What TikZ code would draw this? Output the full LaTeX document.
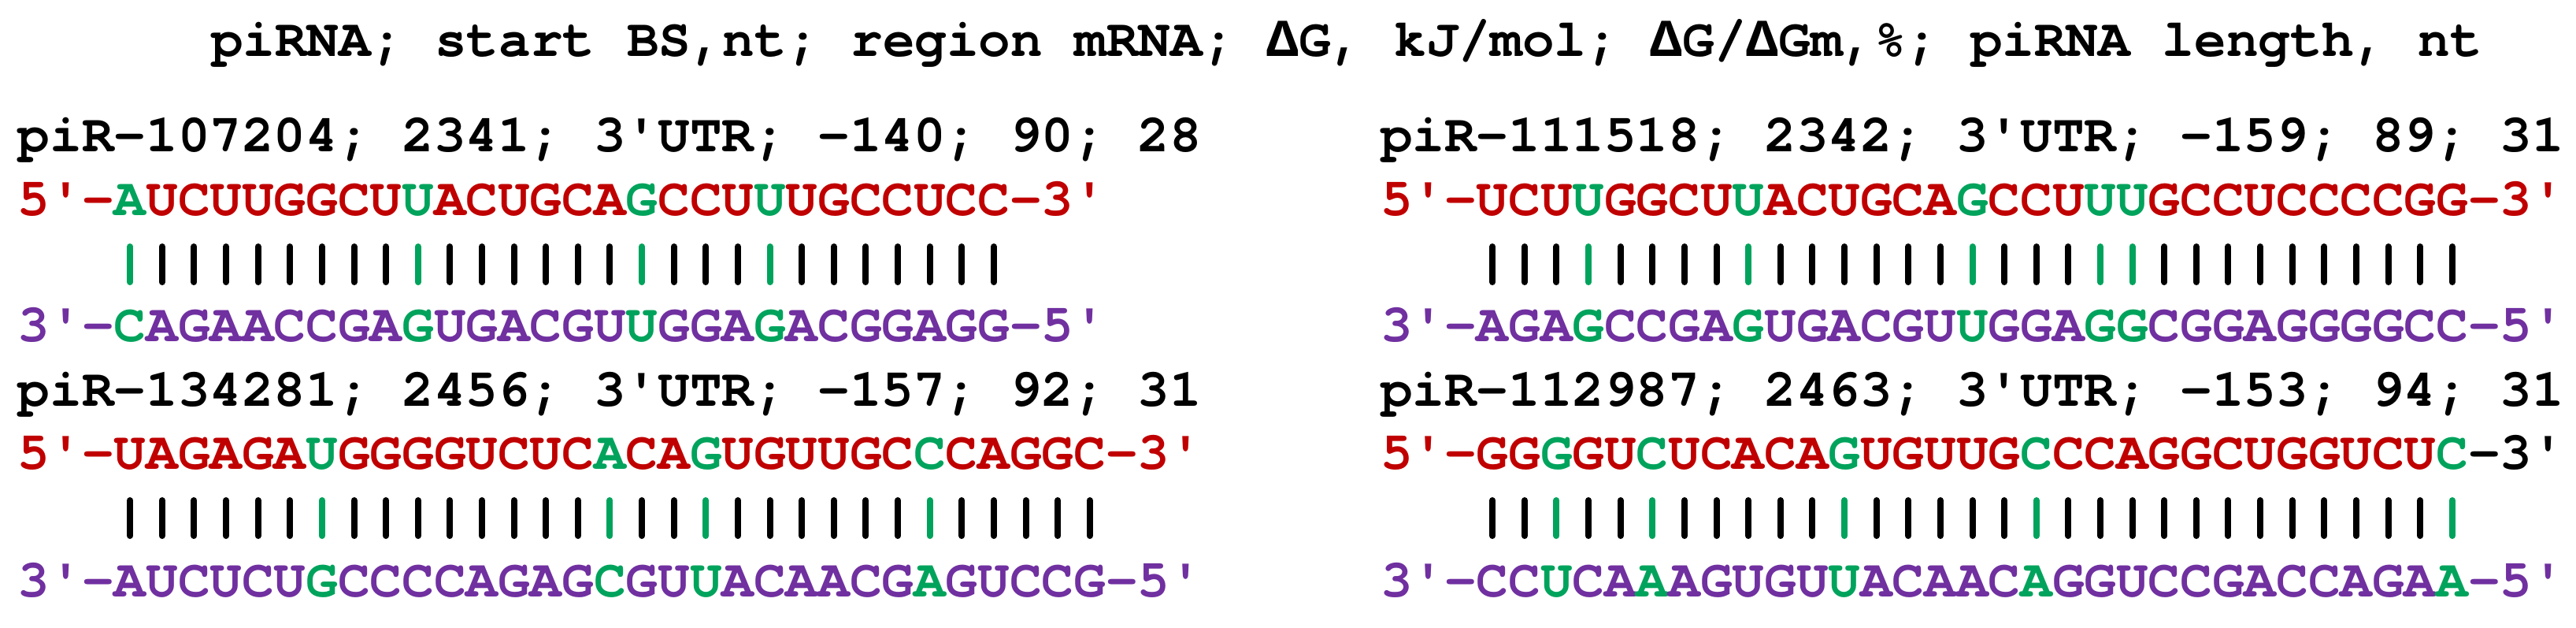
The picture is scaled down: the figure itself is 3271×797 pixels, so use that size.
\documentclass[tikz,border=0pt]{standalone}
\usepackage{fontspec}
\newfontfamily\cur{texgyrecursor-bold.otf}
\newfontfamily\lmb{Liberation Mono}[BoldFont={Liberation Mono Bold}]
\definecolor{sred}{RGB}{192,0,0}
\definecolor{sgreen}{RGB}{0,163,92}
\definecolor{spurp}{RGB}{112,48,160}
\newcommand\G[1]{\textcolor{sgreen}{#1}}
\newcommand\D{{\lmb\bfseries Δ}}
\def\pitch{40.62}
\newcommand\pairbars[4]{%
  \foreach \k in {1,...,#3}{%
    \gdef\bcol{black}%
    \foreach \g in {#4}{\ifnum\g=\k\relax\gdef\bcol{sgreen}\fi}%
    \draw[bar,\bcol] ({#1+(\k+2.5)*\pitch},{#2+40}) -- ({#1+(\k+2.5)*\pitch},{#2+85});
  }}
\begin{document}
\begin{tikzpicture}[x=1pt,y=-1pt,
  txt/.style={anchor=base west, inner sep=0pt, outer sep=0pt, font=\cur\fontsize{67.7}{81}\selectfont},
  bar/.style={line width=8pt, line cap=round}]
\useasboundingbox (0,0) rectangle (3271,797);
\fill[white] (0,0) rectangle (3271,797);
\node[txt] (title) at (268,72) {piRNA; start BS,nt; region mRNA; \D G, kJ/mol; \D G/\D Gm,\%; piRNA length, nt};
% block 1
\node[txt] (h1) at (23,192) {piR-107204; 2341; 3'UTR; -140; 90; 28};
\node[txt,sred] (m1) at (23,273) {5'-\G{A}UCUUGGCU\G{U}ACUGCA\G{G}CCU\G{U}UGCCUCC-3'};
\node[txt,spurp] (p1) at (23,433) {3'-\G{C}AGAACCGA\G{G}UGACGU\G{U}GGA\G{G}ACGGAGG-5'};
\pairbars{23}{273}{28}{1,10,17,21}
% block 2
\node[txt] (h2) at (1753,192) {piR-111518; 2342; 3'UTR; -159; 89; 31};
\node[txt,sred] (m2) at (1753,273) {5'-UCU\G{U}GGCU\G{U}ACUGCA\G{G}CCU\G{UU}GCCUCCCCGG-3'};
\node[txt,spurp] (p2) at (1753,433) {3'-AGA\G{G}CCGA\G{G}UGACGU\G{U}GGA\G{GG}CGGAGGGGCC-5'};
\pairbars{1753}{273}{31}{4,9,16,20,21}
% block 3
\node[txt] (h3) at (23,515) {piR-134281; 2456; 3'UTR; -157; 92; 31};
\node[txt,sred] (m3) at (23,595) {5'-UAGAGA\G{U}GGGGUCUC\G{A}CA\G{G}UGUUGC\G{C}CAGGC-3'};
\node[txt,spurp] (p3) at (23,757) {3'-AUCUCU\G{G}CCCCAGAG\G{C}GU\G{U}ACAACG\G{A}GUCCG-5'};
\pairbars{23}{595}{31}{7,16,19,26}
% block 4
\node[txt] (h4) at (1753,515) {piR-112987; 2463; 3'UTR; -153; 94; 31};
\node[txt,sred] (m4) at (1753,595) {5'-GG\G{G}GU\G{C}UCACA\G{G}UGUUG\G{C}CCAGGCUGGUCU\G{C}\textcolor{black}{-3'}};
\node[txt,spurp] (p4) at (1753,757) {3'-CC\G{U}CA\G{A}AGUGU\G{U}ACAAC\G{A}GGUCCGACCAGA\G{A}-5'};
\pairbars{1753}{595}{31}{3,6,12,18,31}
\end{tikzpicture}
\end{document}
